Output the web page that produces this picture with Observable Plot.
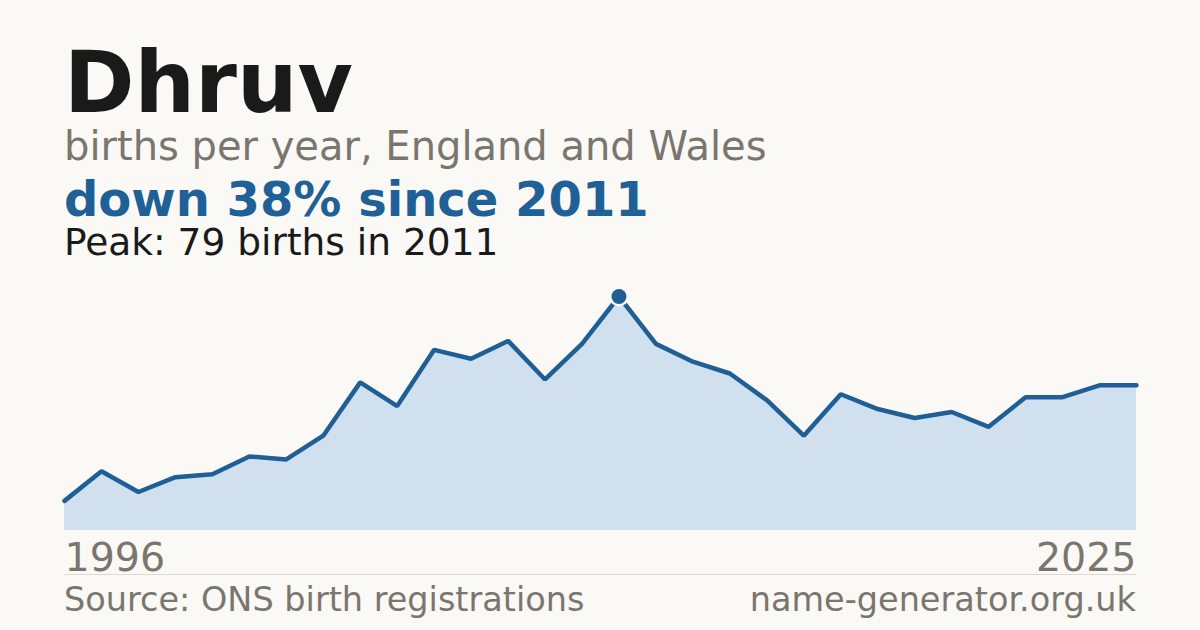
<!DOCTYPE html>
<html>
<head>
<meta charset="utf-8">
<script src="https://cdn.jsdelivr.net/npm/d3@7"></script>
<script src="https://cdn.jsdelivr.net/npm/@observablehq/plot@0.6"></script>
<style>
  html, body { margin: 0; padding: 0; background: #faf9f5; }
  body { width: 1200px; height: 630px; position: relative; overflow: hidden; font-family: "DejaVu Sans", sans-serif; }
  .t { position: absolute; left: 64px; line-height: 0.9; white-space: nowrap; }
  #title { top: 45px; font-size: 85px; font-weight: bold; color: #1a1a1a; }
  #sub { top: 128px; font-size: 40px; color: #7a766e; }
  #change { top: 178px; font-size: 48px; font-weight: bold; color: #1f6096; }
  #peak { top: 226px; font-size: 37.5px; color: #1a1a1a; }
  #chart { position: absolute; left: 0; top: 280px; }
  #rule { position: absolute; left: 64px; top: 574px; width: 1072px; height: 1px; background: #dddad3; }
  .foot { position: absolute; top: 585px; font-size: 33.5px; line-height: 0.9; color: #7a766e; white-space: nowrap; }
  #src { left: 64px; }
  #site { right: 64px; }
</style>
</head>
<body>
<div class="t" id="title">Dhruv</div>
<div class="t" id="sub">births per year, England and Wales</div>
<div class="t" id="change">down 38% since 2011</div>
<div class="t" id="peak">Peak: 79 births in 2011</div>
<div id="chart"></div>
<div id="rule"></div>
<div class="foot" id="src">Source: ONS birth registrations</div>
<div class="foot" id="site">name-generator.org.uk</div>
<script>
const years = [1996,1997,1998,1999,2000,2001,2002,2003,2004,2005,2006,2007,2008,2009,2010,2011,2012,2013,2014,2015,2016,2017,2018,2019,2020,2021,2022,2023,2024,2025];
const births = [10,20,13,18,19,25,24,32,50,42,61,58,64,51,63,79,63,57,53,44,32,46,41,38,40,35,45,45,49,49];
const peakYear = 2011;
const peakValue = 79;
const firstYear = 1996;
const lastYear = 2025;

const data = years.map((year, i) => ({year, births: births[i]}));
const peak = data.filter(d => d.year === peakYear);

const chart = Plot.plot({
  width: 1200,
  height: 300,
  marginLeft: 64,
  marginRight: 64,
  marginTop: 16,
  marginBottom: 50,
  style: {fontFamily: "DejaVu Sans, sans-serif", background: "transparent", overflow: "visible"},
  x: {type: "linear", domain: [firstYear, lastYear]},
  y: {domain: [0, peakValue], axis: null},
  marks: [
    Plot.areaY(data, {x: "year", y: "births", fill: "#d0e0ef"}),
    Plot.lineY(data, {x: "year", y: "births", stroke: "#1f5f96", strokeWidth: 4.5, strokeLinejoin: "miter"}),
    Plot.dot(peak, {x: "year", y: "births", r: 10, fill: "#faf9f5"}),
    Plot.dot(peak, {x: "year", y: "births", r: 7.5, fill: "#1f5f96"}),
    Plot.axisX({ticks: [firstYear], tickSize: 0, tickPadding: 12, tickFormat: d => String(d), textAnchor: "start", fontSize: 39.5, fill: "#7a766e", label: null}),
    Plot.axisX({ticks: [lastYear], tickSize: 0, tickPadding: 12, tickFormat: d => String(d), textAnchor: "end", fontSize: 39.5, fill: "#7a766e", label: null})
  ]
});
document.getElementById("chart").appendChild(chart);
</script>
</body>
</html>
